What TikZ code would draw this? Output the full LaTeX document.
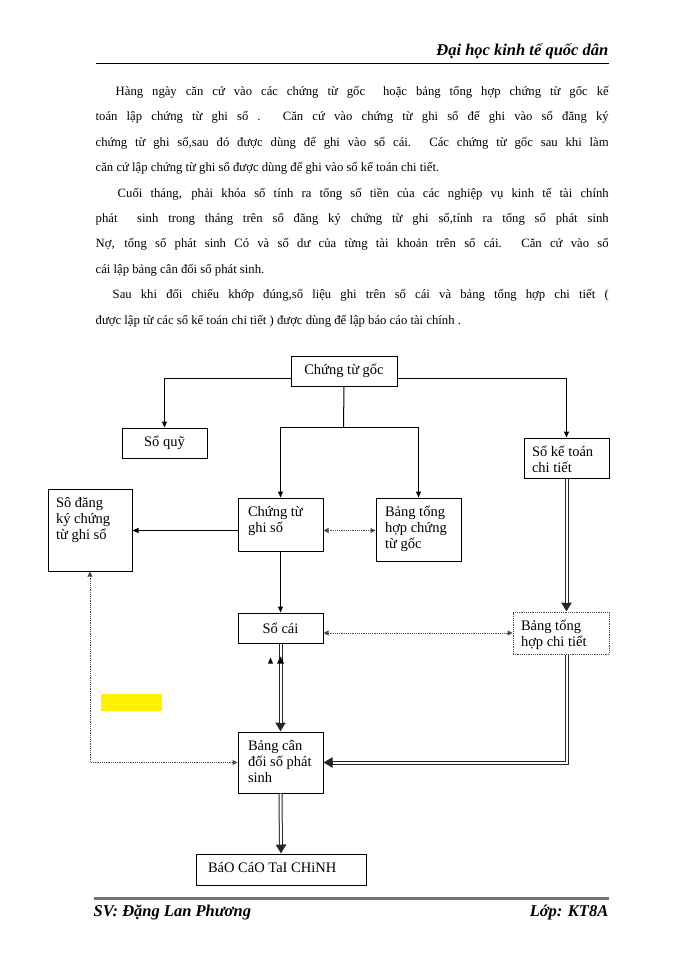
\documentclass[tikz,border=0pt]{standalone}
\usepackage{fontspec}
\setmainfont{Liberation Serif}
\usetikzlibrary{arrows.meta}
\newcommand\bxfont{\fontsize{14.5}{16.3}\selectfont}
\newcommand\bodyfont{\fontsize{12.7}{25.4}\selectfont}
\newcommand\hdrfont{\fontsize{16.5}{20}\selectfont\bfseries\itshape}
\newcommand\btx[4]{\parbox[t][#2][t]{#1}{\vspace*{4pt}\raggedright\leftskip=#3\rule{0pt}{14pt}#4}}
\newcommand\jl[1]{\makebox[\linewidth][s]{#1}\par}
\tikzset{
  bx/.style={draw, line width=1pt, inner sep=0pt, anchor=north west, font=\bxfont},
  arr/.style={-{Triangle[length=6pt,width=5pt]}, line width=1pt},
  dotl/.style={line width=1pt, black!70, dash pattern=on 1.2pt off 1pt},
  dtip/.style={{Triangle[length=5pt,width=5pt]}-{Triangle[length=5pt,width=5pt]}},
  darr/.style={line width=4pt, draw=black!85, -{Triangle[length=9pt,width=10pt]},
    postaction={draw=white, line width=2pt, -, shorten >=9pt}},
}
\begin{document}
\begin{tikzpicture}[x=1pt,y=-1pt]
\fill[white] (0,0) rectangle (700,960);
\useasboundingbox (0,0) rectangle (700,960);
\begin{scope}[shift={(0.5,0.5)}]
% header
\node[anchor=base east, inner sep=0pt, font=\hdrfont] (hdr) at (608,55) {Đại học kinh tế quốc dân};
\draw[line width=1.5pt] (95,63) -- (608,63);
% body text
\node[anchor=base west, inner sep=0pt, font=\bodyfont] (p1) at (95,95) {\parbox[t]{513pt}{%
\jl{\hspace*{20pt}Hàng ngày căn cứ vào các chứng từ gốc\ \ hoặc bảng tổng hợp chứng từ gốc kế}
\jl{toán lập chứng từ ghi sổ . Căn cứ vào chứng từ ghi sổ để ghi vào sổ đăng ký}
\jl{chứng từ ghi sổ,sau đó được dùng để ghi vào sổ cái. Các chứng từ gốc sau khi làm}
căn cứ lập chứng từ ghi sổ được dùng để ghi vào sổ kế toán chi tiết.}};
\node[anchor=base west, inner sep=0pt, font=\bodyfont] (p2) at (95,196.6) {\parbox[t]{513pt}{%
\jl{\hspace*{22pt}Cuối tháng, phải khóa sổ tính ra tổng số tiền của các nghiệp vụ kinh tế tài chính}
\jl{phát\ \ sinh trong tháng trên sổ đăng ký chứng từ ghi sổ,tính ra tổng số phát sinh}
\jl{Nợ, tổng số phát sinh Có và số dư của từng tài khoản trên sổ cái. Căn cứ vào sổ}
cái lập bảng cân đối số phát sinh.}};
\node[anchor=base west, inner sep=0pt, font=\bodyfont] (p3) at (95,298.2) {\parbox[t]{513pt}{%
\jl{\hspace*{17pt}Sau khi đối chiếu khớp đúng,số liệu ghi trên sổ cái và bảng tổng hợp chi tiết (}
được lập từ các sổ kế toán chi tiết ) được dùng để lập báo cáo tài chính .}};
% boxes
\node[bx, minimum width=106pt, minimum height=30pt] (goc) at (290,355) {Chứng từ gốc};
\node[bx, minimum width=85pt, minimum height=30pt] (quy) at (121,427) {Sổ quỹ};
\node[bx] (ketoan) at (523,437) {\btx{85pt}{40pt}{8pt}{Sổ kế toán\\chi tiết}};
\node[bx] (dangky) at (47,488) {\btx{84pt}{82pt}{8pt}{Sô đăng\\ký chứng\\từ ghi sổ}};
\node[bx] (ghiso) at (237,497) {\btx{85pt}{53pt}{10pt}{Chứng từ\\ghi sổ}};
\node[bx] (bthct) at (375,497) {\btx{85pt}{63pt}{9pt}{Bảng tổng\\hợp chứng\\từ gốc}};
\node[bx, minimum width=85pt, minimum height=30pt] (socai) at (237,612) {Sổ cái};
\node[bx, draw=black!70, dash pattern=on 1.2pt off 1pt] (btct) at (512,611) {\btx{96pt}{42pt}{8pt}{Bảng tổng\\hợp chi tiết}};
\node[bx] (bcd) at (237,731) {\btx{85pt}{61pt}{10pt}{Bảng cân\\đối số phát\\sinh}};
\node[bx] (baocao) at (195,853) {\btx{170pt}{31pt}{12pt}{BáO CáO TaI CHiNH}};
% yellow mark
\fill[yellow] (100,693) rectangle (161,710);
% connectors
\draw[arr] ([yshift=-7pt]goc.west) -| (quy.north);
\draw[arr] ([yshift=-7pt]goc.east) -| (ketoan.north);
\coordinate (split) at (343,427);
\draw[line width=1pt] (goc.south) -- (split);
\draw[arr] (split) -| (ghiso.north);
\draw[arr] (split) -| (bthct.north);
\draw[arr] ([yshift=-6pt]ghiso.west) -- ([yshift=-6pt]ghiso.west -| dangky.east);
\draw[dotl, dtip] ([yshift=-6pt]ghiso.east) -- ([yshift=-6pt]ghiso.east -| bthct.west);
\draw[arr] (ghiso.south) -- (socai.north);
\draw[dotl, dtip] (btct.west -| socai.east) -- (btct.west);
\draw[darr] (ketoan.south) -- (ketoan.south |- btct.north);
\draw[darr] (socai.south) -- (bcd.north);
\draw[darr] (btct.south -| ketoan.south) |- (bcd.east);
\draw[darr] (bcd.south) -- (baocao.north);
\draw[dotl, dtip] (bcd.west) -| (dangky.south);
\fill (270,657) -- (267.5,663) -- (272.5,663) -- cycle;
\fill (280,656) -- (276.5,663) -- (283.5,663) -- cycle;
% footer
\draw[line width=2.5pt, black!55] (93,898) -- (608,898);
\node[anchor=base west, inner sep=0pt, font=\hdrfont] (sv) at (93,916) {SV: Đặng Lan Phương};
\node[anchor=base east, inner sep=0pt, font=\hdrfont] (lop) at (608,916) {Lớp: KT8A};
\end{scope}
\end{tikzpicture}
\end{document}
